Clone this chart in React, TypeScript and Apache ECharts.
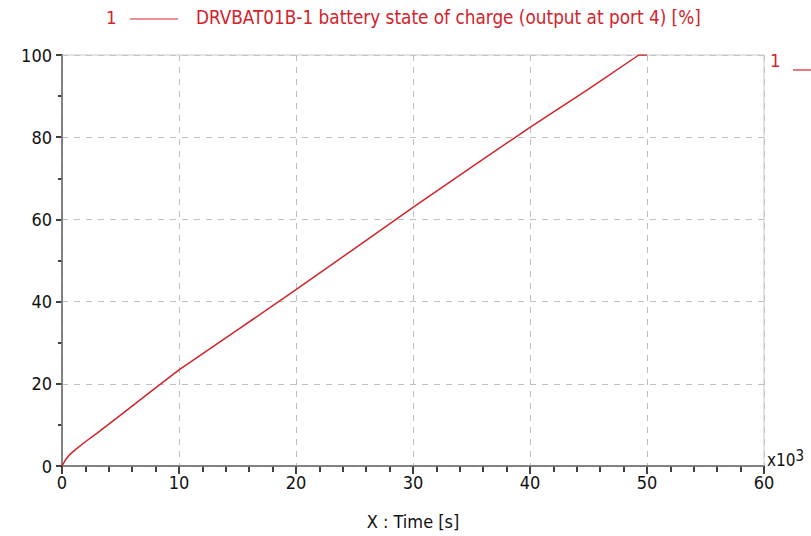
import React, { useEffect, useRef } from "react";
import * as echarts from "echarts";

const timeK: number[] = [0, 0.3, 0.7, 1.2, 2, 3, 5, 7.5, 10, 15, 20, 25, 30, 35, 40, 45, 49.3, 50];
const soc: number[] = [0, 1.5, 2.9, 4.1, 5.9, 8, 12.4, 17.9, 23.4, 33.1, 42.9, 52.9, 62.9, 72.7, 82.4, 91.7, 100, 100];
const xTicks: number[] = [0, 10, 20, 30, 40, 50, 60];
const yTicks: number[] = [0, 20, 40, 60, 80, 100];
const seriesLabel = "DRVBAT01B-1 battery state of charge (output at port 4) [%]";

const RED = "#d2232a";
const FONT = "'DejaVu Sans Condensed', 'Liberation Sans Narrow', 'Liberation Sans', sans-serif";

export default function App() {
  const ref = useRef<HTMLDivElement>(null);
  useEffect(() => {
    if (!ref.current) return;
    const chart = echarts.init(ref.current, null, { renderer: "svg" });
    const data = timeK.map((t, i) => [t, soc[i]]);
    chart.setOption({
      animation: false,
      backgroundColor: "#ffffff",
      grid: {
        left: 62,
        right: 47,
        top: 55,
        bottom: 70,
        show: true,
        borderColor: "#c8c8c8",
        borderWidth: 1,
        z: 3,
      },
      xAxis: {
        type: "value",
        min: xTicks[0],
        max: xTicks[xTicks.length - 1],
        interval: 10,
        name: "X : Time [s]",
        nameLocation: "middle",
        nameGap: 46,
        nameTextStyle: { fontFamily: FONT, fontSize: 18, color: "#111" },
        axisLine: { show: true, onZero: false, lineStyle: { color: "#000", width: 1.5 } },
        axisTick: { show: true, length: 8, lineStyle: { color: "#000", width: 1.5 } },
        minorTick: { show: true, splitNumber: 5, length: 6, lineStyle: { color: "#000", width: 1.5 } },
        axisLabel: { fontFamily: FONT, fontSize: 18, color: "#111", margin: 7 },
        splitLine: { show: true, lineStyle: { color: "#c0c0c0", type: [6, 6], width: 1 } },
      },
      yAxis: {
        type: "value",
        min: yTicks[0],
        max: yTicks[yTicks.length - 1],
        interval: 20,
        axisLine: { show: true, onZero: false, lineStyle: { color: "#000", width: 1.5 } },
        axisTick: { show: true, length: 6, lineStyle: { color: "#000", width: 1.5 } },
        minorTick: { show: true, splitNumber: 2, length: 4, lineStyle: { color: "#000", width: 1.5 } },
        axisLabel: { fontFamily: FONT, fontSize: 18, color: "#111", margin: 10 },
        splitLine: { show: true, lineStyle: { color: "#c0c0c0", type: [6, 6], width: 1 } },
      },
      series: [
        {
          type: "line",
          data,
          showSymbol: false,
          lineStyle: { color: RED, width: 1.5 },
          z: 5,
        },
      ],
      graphic: [
        { type: "text", left: 106, top: 8, style: { text: "1", fontFamily: FONT, fontSize: 18.5, fill: RED } },
        { type: "line", shape: { x1: 130, y1: 19, x2: 178, y2: 19 }, style: { stroke: RED, lineWidth: 1.2 } },
        { type: "text", left: 196, top: 8, style: { text: seriesLabel, fontFamily: FONT, fontSize: 18.8, fill: RED } },
        { type: "text", left: 770, top: 51, style: { text: "1", fontFamily: FONT, fontSize: 18.5, fill: RED } },
        { type: "line", shape: { x1: 793, y1: 70, x2: 811, y2: 70 }, style: { stroke: RED, lineWidth: 1.2 } },
        {
          type: "text",
          left: 767,
          top: 448,
          style: {
            text: "x10{sup|3}",
            fontFamily: FONT,
            fontSize: 17,
            fill: "#111",
            rich: { sup: { fontSize: 15, verticalAlign: "top", padding: [0, 0, 8, 0], fontFamily: FONT, fill: "#111" } },
          },
        },
      ],
    });
    return () => chart.dispose();
  }, []);
  return <div ref={ref} style={{ width: 811, height: 536, position: "fixed", left: 0, top: 0 }} />;
}
